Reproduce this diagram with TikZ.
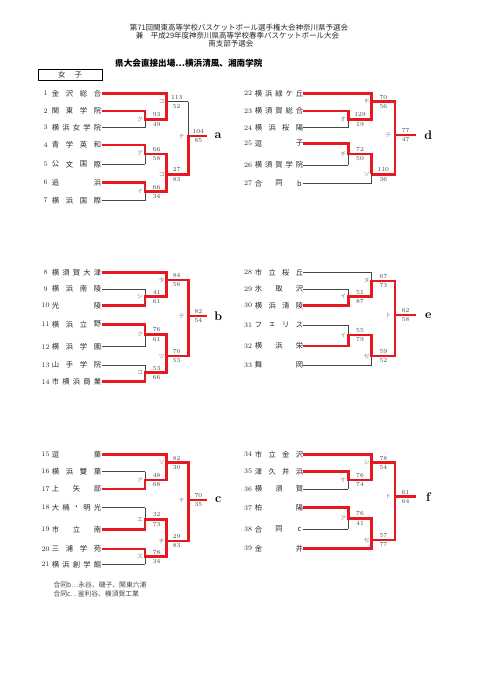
\documentclass[tikz,border=0pt]{standalone}
\usepackage{fontspec}
\newfontfamily\cjk{Noto Sans CJK JP}
\definecolor{rl}{RGB}{232,24,32}
\definecolor{gl}{RGB}{70,70,70}
\definecolor{tx}{RGB}{40,40,40}
\newcommand\tL[4]{\node[numst] (nl#1) at (45.5,#2) {#1};
  \foreach \c [count=\i] in {#4} {\pgfmathsetmacro\xx{55.5+(\i-1)*42/(#3-1)}\node[namest] (t#1c\i) at (\xx,#2) {\c};}}
\newcommand\tR[4]{\node[numst] (nr#1) at (248,#2) {#1};
  \foreach \c [count=\i] in {#4} {\pgfmathsetmacro\xx{258.5+(\i-1)*41/(#3-1)}\node[namest] (t#1c\i) at (\xx,#2) {\c};}}
\newcommand\mt[6]{\node[labst] at (#1,#2) {#5};
  \node[scst] at (#6,#2-4.6) {#3};
  \node[scst] at (#6,#2+4.8) {#4};}
\begin{document}
\begin{tikzpicture}[x=1pt,y=-1pt,
  gline/.style={gl,line width=0.8pt},
  rline/.style={rl,line width=2.5pt,line join=miter},
  numst/.style={inner sep=0pt,font=\fontsize{7}{8}\selectfont,text=tx},
  namest/.style={inner sep=0pt,font=\cjk\fontsize{7.3}{8}\selectfont,text=tx},
  scst/.style={inner sep=0pt,font=\fontsize{6.2}{7}\selectfont,text=gl},
  labst/.style={inner sep=0pt,font=\cjk\fontsize{5.8}{6}\selectfont,text=gray},
  letst/.style={inner sep=0pt,font=\bfseries\fontsize{12.5}{13}\selectfont}]
\fill[white] (0,0) rectangle (481,680);
\useasboundingbox (0,0) rectangle (481,680);
% header
\node[inner sep=0pt,font=\cjk\fontsize{7.5}{8}\selectfont,text=tx] (h1) at (239,27.3) {第71回関東高等学校バスケットボール選手権大会神奈川県予選会};
\node[inner sep=0pt,font=\cjk\fontsize{7.5}{8}\selectfont,text=tx] (h2) at (237.5,35.7) {兼　平成29年度神奈川県高等学校春季バスケットボール大会};
\node[inner sep=0pt,font=\cjk\fontsize{7.5}{8}\selectfont,text=tx] (h3) at (230.8,43.5) {南支部予選会};
\node[inner sep=0pt,anchor=west,font=\cjk\bfseries\fontsize{8.6}{9}\selectfont] (h4) at (115,63) {県大会直接出場…横浜清風、湘南学院};
\draw[line width=0.9pt] (38,69.5) rectangle (102,80.5);
\node[namest] (jo) at (61.7,75) {女};
\node[namest] (ko) at (78.3,75) {子};
% footer
\node[inner sep=0pt,anchor=west,font=\cjk\fontsize{6.8}{7}\selectfont,text=gl] (f1) at (53.3,585) {合同b…永谷、磯子、関東六浦};
\node[inner sep=0pt,anchor=west,font=\cjk\fontsize{6.8}{7}\selectfont,text=gl] (f2) at (53.3,594.3) {合同c…釜利谷、横須賀工業};
% ---------------- team names
\tL{1}{93.3}{4}{金,沢,総,合}
\tL{2}{111}{4}{関,東,学,院}
\tL{3}{127.7}{5}{横,浜,女,学,院}
\tL{4}{145}{4}{青,学,英,和}
\tL{5}{164.3}{4}{公,文,国,際}
\tL{6}{182.7}{2}{追,浜}
\tL{7}{200.7}{4}{横,浜,国,際}
\tL{8}{272.3}{5}{横,須,賀,大,津}
\tL{9}{289}{4}{横,浜,南,陵}
\tL{10}{305.7}{2}{光,陵}
\tL{11}{324.3}{4}{横,浜,立,野}
\tL{12}{346.7}{4}{横,浜,学,園}
\tL{13}{365}{4}{山,手,学,院}
\tL{14}{381.7}{5}{市,横,浜,商,業}
\tL{15}{454.3}{2}{逗,葉}
\tL{16}{471.7}{4}{横,浜,雙,葉}
\tL{17}{489}{3}{上,矢,部}
\tL{18}{507.7}{5}{大,楠,・,明,光}
\tL{19}{529.3}{3}{市,立,南}
\tL{20}{549}{4}{三,浦,学,苑}
\tL{21}{564.3}{5}{横,浜,創,学,館}
\tR{22}{93.3}{5}{横,浜,緑,ケ,丘}
\tR{23}{111}{5}{横,須,賀,総,合}
\tR{24}{127.7}{4}{横,浜,桜,陽}
\tR{25}{143.3}{2}{逗,子}
\tR{26}{165}{5}{横,須,賀,学,院}
\tR{27}{183.3}{3}{合,同,b}
\tR{28}{272.3}{4}{市,立,桜,丘}
\tR{29}{289}{3}{氷,取,沢}
\tR{30}{305.7}{4}{横,浜,清,陵}
\tR{31}{325}{4}{フ,ェ,リ,ス}
\tR{32}{346}{3}{横,浜,栄}
\tR{33}{365}{2}{舞,岡}
\tR{34}{454.3}{4}{市,立,金,沢}
\tR{35}{471.7}{4}{津,久,井,浜}
\tR{36}{489}{3}{横,須,賀}
\tR{37}{507.7}{2}{柏,陽}
\tR{38}{529.3}{3}{合,同,c}
\tR{39}{548.3}{2}{金,井}
% ---------------- grey skeleton
% a
\draw[gline] (101.7,93.3) -- (166.7,93.3);
\foreach \y in {111,127.7,145,164.3,182.7,200.7} \draw[gline] (101.7,\y) -- (145,\y);
\draw[gline] (145,111) -- (145,127.7) (145,145) -- (145,164.3) (145,182.7) -- (145,200.7);
\draw[gline] (145,119.3) -- (166.7,119.3) (145,154) -- (166.7,154) (145,191.7) -- (166.7,191.7);
\draw[gline] (166.7,93.3) -- (166.7,119.3) (166.7,154) -- (166.7,191.7);
\draw[gline] (166.7,101.7) -- (188.3,101.7) (166.7,174.3) -- (188.3,174.3) (188.3,101.7) -- (188.3,174.3);
% b
\draw[gline] (101.7,272.3) -- (166.7,272.3);
\foreach \y in {289,305.7,324.3,346.7,365,381.7} \draw[gline] (101.7,\y) -- (145,\y);
\draw[gline] (145,289) -- (145,305.7) (145,324.3) -- (145,346.7) (145,365) -- (145,381.7);
\draw[gline] (145,296.7) -- (166.7,296.7) (145,334.3) -- (166.7,334.3) (145,372.7) -- (166.7,372.7);
\draw[gline] (166.7,272.3) -- (166.7,296.7) (166.7,334.3) -- (166.7,372.7);
\draw[gline] (166.7,280) -- (188.3,280) (166.7,356) -- (188.3,356) (188.3,280) -- (188.3,356);
% c
\draw[gline] (101.7,454.3) -- (166.7,454.3);
\foreach \y in {471.7,489,507.7,529.3,549,564.3} \draw[gline] (101.7,\y) -- (145,\y);
\draw[gline] (145,471.7) -- (145,489) (145,507.7) -- (145,529.3) (145,549) -- (145,564.3);
\draw[gline] (145,480) -- (166.7,480) (145,519.3) -- (166.7,519.3) (145,556.7) -- (166.7,556.7);
\draw[gline] (166.7,454.3) -- (166.7,480) (166.7,519.3) -- (166.7,556.7);
\draw[gline] (166.7,462.7) -- (188.3,462.7) (166.7,541) -- (188.3,541) (188.3,462.7) -- (188.3,541);
% d
\draw[gline] (303.3,93.3) -- (371.7,93.3) (303.3,183.3) -- (371.7,183.3);
\foreach \y in {111,127.7,143.3,165} \draw[gline] (303.3,\y) -- (348.3,\y);
\draw[gline] (348.3,111) -- (348.3,127.7) (348.3,143.3) -- (348.3,165);
\draw[gline] (348.3,119.3) -- (371.7,119.3) (348.3,154) -- (371.7,154);
\draw[gline] (371.7,93.3) -- (371.7,119.3) (371.7,154) -- (371.7,183.3);
\draw[gline] (371.7,101.7) -- (395,101.7) (371.7,174.3) -- (395,174.3) (395,101.7) -- (395,174.3);
% e
\draw[gline] (303.3,272.3) -- (371.7,272.3) (303.3,365) -- (371.7,365);
\foreach \y in {289,305.7,325,346} \draw[gline] (303.3,\y) -- (348.3,\y);
\draw[gline] (348.3,289) -- (348.3,305.7) (348.3,325) -- (348.3,346);
\draw[gline] (348.3,296.7) -- (371.7,296.7) (348.3,335) -- (371.7,335);
\draw[gline] (371.7,272.3) -- (371.7,296.7) (371.7,335) -- (371.7,365);
\draw[gline] (371.7,281) -- (395,281) (371.7,356) -- (395,356) (395,281) -- (395,356);
% f
\draw[gline] (303.3,454.3) -- (371.7,454.3) (303.3,548.3) -- (371.7,548.3);
\foreach \y in {471.7,489,507.7,529.3} \draw[gline] (303.3,\y) -- (348.3,\y);
\draw[gline] (348.3,471.7) -- (348.3,489) (348.3,507.7) -- (348.3,529.3);
\draw[gline] (348.3,480) -- (371.7,480) (348.3,518.3) -- (371.7,518.3);
\draw[gline] (371.7,454.3) -- (371.7,480) (371.7,518.3) -- (371.7,548.3);
\draw[gline] (371.7,462.7) -- (395,462.7) (371.7,540) -- (395,540) (395,462.7) -- (395,540);
% ---------------- red paths
% a
\draw[rline] (101.7,93.3) -- (166.7,93.3) -- (166.7,119.3) -- (145,119.3) -- (145,111) -- (101.7,111);
\draw[rline] (101.7,145) -- (145,145) -- (145,154) -- (166.7,154) -- (166.7,191.7) -- (145,191.7) -- (145,182.7) -- (101.7,182.7);
\draw[rline] (166.7,174.3) -- (188.3,174.3) -- (188.3,136) -- (206.7,136);
% b
\draw[rline] (101.7,272.3) -- (166.7,272.3) -- (166.7,296.7) -- (145,296.7) -- (145,305.7) -- (101.7,305.7);
\draw[rline] (101.7,324.3) -- (145,324.3) -- (145,334.3) -- (166.7,334.3) -- (166.7,372.7) -- (145,372.7) -- (145,381.7) -- (101.7,381.7);
\draw[rline] (166.7,280) -- (188.3,280) -- (188.3,356) -- (166.7,356);
\draw[rline] (188.3,316) -- (206.7,316);
% c
\draw[rline] (101.7,454.3) -- (166.7,454.3) -- (166.7,480) -- (145,480) -- (145,489) -- (101.7,489);
\draw[rline] (101.7,529.3) -- (145,529.3) -- (145,519.3) -- (166.7,519.3) -- (166.7,556.7) -- (145,556.7) -- (145,549) -- (101.7,549);
\draw[rline] (166.7,462.7) -- (188.3,462.7) -- (188.3,541) -- (166.7,541);
\draw[rline] (188.3,500) -- (206.7,500);
% d
\draw[rline] (303.3,93.3) -- (371.7,93.3) -- (371.7,119.3) -- (348.3,119.3) -- (348.3,111) -- (303.3,111);
\draw[rline] (303.3,143.3) -- (348.3,143.3) -- (348.3,154) -- (371.7,154) -- (371.7,174.3);
\draw[rline] (371.7,101.7) -- (395,101.7) -- (395,174.3) -- (371.7,174.3);
\draw[rline] (395,135) -- (416,135);
% e
\draw[rline] (303.3,305.7) -- (348.3,305.7) -- (348.3,296.7) -- (371.7,296.7) -- (371.7,281) -- (395,281) -- (395,356) -- (371.7,356) -- (371.7,335) -- (348.3,335) -- (348.3,346) -- (303.3,346);
\draw[rline] (395,315) -- (416,315);
% f
\draw[rline] (303.3,454.3) -- (371.7,454.3) -- (371.7,480) -- (348.3,480) -- (348.3,471.7) -- (303.3,471.7);
\draw[rline] (371.7,462.7) -- (395,462.7) -- (395,540) -- (371.7,540) -- (371.7,518.3) -- (348.3,518.3) -- (348.3,507.7) -- (303.3,507.7);
\draw[rline] (371.7,540) -- (371.7,548.3) -- (303.3,548.3);
\draw[rline] (395,496.7) -- (416,496.7);
% ---------------- scores and labels
% a
\mt{140}{119.3}{93}{49}{ク}{156.7}
\mt{161.7}{101.7}{113}{52}{コ}{176.7}
\mt{140}{154}{66}{58}{ア}{156.7}
\mt{140}{191.7}{66}{34}{イ}{156.7}
\mt{161.7}{174.3}{27}{83}{コ}{176.7}
\mt{181.7}{136}{104}{85}{ナ}{198.3}
% b
\mt{140}{296.7}{41}{61}{シ}{156.7}
\mt{161.7}{280}{84}{56}{タ}{176.7}
\mt{140}{334.3}{76}{61}{ク}{156.7}
\mt{140}{372.7}{53}{66}{コ}{156.7}
\mt{161.7}{356}{70}{53}{ツ}{176.7}
\mt{181.7}{316}{82}{54}{テ}{198.3}
% c
\mt{140}{480}{48}{68}{ア}{156.7}
\mt{161.7}{462.7}{82}{30}{ソ}{176.7}
\mt{140}{519.3}{32}{73}{エ}{156.7}
\mt{140}{556.7}{78}{34}{ス}{156.7}
\mt{161.7}{541}{29}{83}{チ}{176.7}
\mt{181.7}{500}{70}{35}{ナ}{198.3}
% d
\mt{343.3}{119.3}{129}{19}{オ}{360}
\mt{366.7}{101.7}{70}{56}{チ}{383.3}
\mt{343.3}{154}{72}{50}{チ}{360}
\mt{366.7}{174.3}{110}{36}{ソ}{383.3}
\mt{388.3}{135}{77}{47}{テ}{405.7}
% e
\mt{343.3}{296.7}{51}{87}{イ}{360}
\mt{366.7}{281}{67}{73}{ヌ}{383.3}
\mt{343.3}{335}{55}{79}{イ}{360}
\mt{366.7}{356}{59}{52}{セ}{383.3}
\mt{388.3}{315}{62}{58}{ト}{405.7}
% f
\mt{343.3}{480}{76}{74}{ケ}{360}
\mt{366.7}{462.7}{78}{54}{シ}{383.3}
\mt{343.3}{518.3}{76}{41}{ア}{360}
\mt{366.7}{540}{57}{77}{セ}{383.3}
\mt{388.3}{496.7}{61}{64}{ト}{405.7}
% block letters
\node[letst] (la) at (218,136) {a};
\node[letst] (lb) at (218.3,316) {b};
\node[letst] (lc) at (218.3,500) {c};
\node[letst] (ld) at (428.3,135) {d};
\node[letst] (le) at (428.3,316) {e};
\node[letst] (lf) at (428.3,497.5) {f};
\end{tikzpicture}
\end{document}
